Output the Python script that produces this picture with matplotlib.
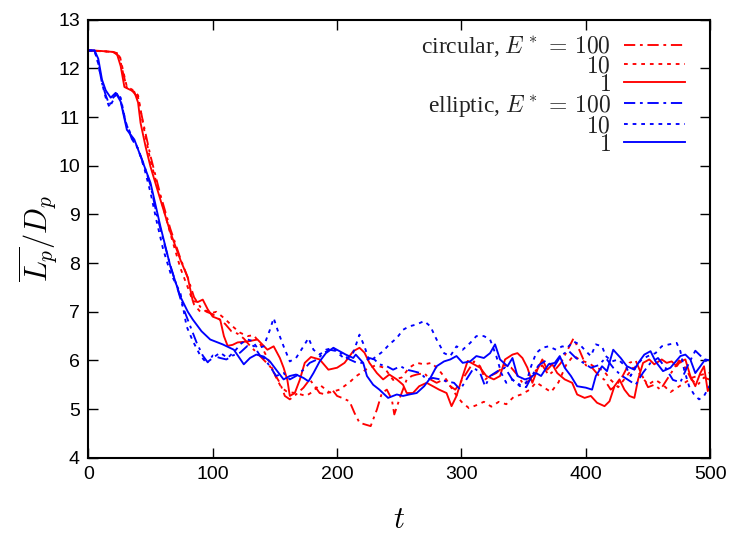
"""Mean particle length L_p/D_p versus time for circular and elliptic particles."""

import matplotlib
matplotlib.use("Agg")
import matplotlib.pyplot as plt
import numpy as np

# circular, E* = 100 (red dash-dot)
T_CIRC100 = [0, 10, 20, 25, 28, 31, 35, 40, 44, 50, 58, 66, 74, 80, 85, 90, 95, 100, 105, 110,
             115, 120, 125, 130, 138, 146, 154, 158, 162, 167, 173, 178, 182, 186, 191, 196, 200,
             204, 210, 214, 218, 223, 227, 232, 236, 240, 244, 246, 251, 256, 260, 264, 270, 275,
             280, 286, 291, 295, 299, 304, 310, 315, 319, 323, 328, 335, 340, 345, 350, 355, 360,
             365, 370, 375, 380, 385, 390, 395, 400, 405, 410, 415, 420, 425, 430, 435, 440, 445,
             450, 455, 460, 465, 470, 475, 480, 485, 490, 495, 500]
L_CIRC100 = [12.37, 12.36, 12.34, 12.25, 11.9, 11.6, 11.55, 11.4, 10.9, 10.2, 9.4, 8.7, 8.1, 7.7,
             7.3, 7.1, 7.0, 6.95, 6.85, 6.75, 6.6, 6.55, 6.45, 6.3, 6.09, 5.88, 5.54, 5.27, 5.2, 5.3,
             5.44, 5.61, 5.47, 5.33, 5.3, 5.4, 5.27, 5.23, 5.16, 4.92, 4.72, 4.68, 4.65, 4.99, 5.33,
             5.4, 5.2, 4.89, 5.27, 5.61, 5.68, 5.71, 5.74, 5.61, 5.54, 5.61, 5.47, 5.4, 5.54, 5.74,
             5.98, 5.88, 5.61, 5.68, 5.74, 5.9, 5.85, 5.7, 5.5, 5.6, 5.8, 5.9, 5.7, 5.8, 5.95, 6.2,
             6.45, 6.2, 5.9, 5.85, 5.7, 5.6, 5.4, 5.5, 5.7, 5.95, 6.0, 5.7, 5.45, 5.5, 5.4, 5.6, 5.8,
             6.0, 5.85, 5.6, 5.5, 5.65, 5.6]

# circular, E* = 10 (red dotted)
T_CIRC10 = [0, 20, 25, 28, 31, 35, 40, 44, 50, 58, 66, 74, 80, 85, 90, 95, 100, 103, 110, 116, 122,
            128, 133, 138, 145, 150, 155, 160, 167, 175, 180, 186, 194, 202, 210, 215, 223, 231,
            238, 245, 252, 258, 264, 270, 276, 282, 288, 294, 300, 306, 312, 318, 324, 330, 336,
            342, 348, 355, 360, 366, 372, 378, 384, 390, 396, 402, 408, 414, 420, 426, 432, 438,
            444, 450, 456, 462, 468, 474, 480, 486, 492, 500]
L_CIRC10 = [12.37, 12.34, 12.3, 11.95, 11.62, 11.57, 11.45, 10.85, 10.1, 9.35, 8.6, 7.9, 7.5, 7.15,
            7.0, 7.02, 6.98, 7.0, 6.85, 6.7, 6.57, 6.5, 6.52, 6.35, 6.0, 5.7, 5.45, 5.35, 5.33, 5.27,
            5.35, 5.5, 5.34, 5.4, 5.55, 5.67, 5.81, 5.9, 5.85, 5.6, 5.65, 5.85, 5.95, 5.92, 5.95,
            5.8, 5.6, 5.35, 5.15, 5.02, 5.08, 5.15, 5.05, 5.15, 5.1, 5.25, 5.3, 5.4, 5.55, 5.45,
            5.35, 5.55, 5.9, 6.1, 6.0, 5.95, 5.85, 5.8, 5.6, 5.45, 5.65, 5.85, 5.7, 5.5, 5.6, 5.5,
            5.35, 5.45, 5.55, 5.65, 5.7, 5.75]

# circular, E* = 1 (red solid)
T_CIRC1 = [0, 10, 20, 23, 26, 29, 33, 37, 40, 42, 46, 50, 58, 66, 74, 80, 84, 88, 92, 96, 100, 106,
           109, 112, 116, 120, 128, 136, 144, 149, 154, 157, 160, 162, 166, 170, 174, 179, 186, 193,
           200, 206, 213, 218, 222, 226, 232, 237, 242, 248, 253, 256, 261, 266, 272, 277, 282, 288,
           292, 296, 301, 305, 310, 315, 320, 326, 331, 335, 341, 345, 349, 353, 357, 361, 365, 369,
           373, 377, 383, 389, 393, 399, 404, 409, 415, 419, 423, 427, 431, 435, 439, 442, 446, 451,
           455, 461, 465, 469, 473, 476, 480, 484, 488, 492, 495, 498, 500]
L_CIRC1 = [12.37, 12.36, 12.34, 12.3, 12.05, 11.62, 11.57, 11.52, 11.3, 10.88, 10.4, 9.98, 9.3, 8.63,
           8.07, 7.7, 7.22, 7.2, 7.25, 7.05, 6.9, 6.84, 6.5, 6.3, 6.32, 6.37, 6.39, 6.43, 6.22, 6.29,
           6.05, 5.85, 5.6, 5.27, 5.33, 5.6, 5.95, 6.07, 6.02, 5.81, 5.85, 5.95, 6.19, 6.26, 6.16,
           5.95, 5.74, 5.61, 5.71, 5.61, 5.5, 5.33, 5.33, 5.47, 5.54, 5.47, 5.4, 5.33, 5.06, 5.27,
           5.68, 5.99, 5.92, 5.85, 5.68, 5.61, 5.68, 6.02, 6.12, 6.15, 6.05, 5.85, 5.54, 5.81, 6.02,
           5.81, 5.92, 5.74, 5.61, 5.54, 5.3, 5.23, 5.27, 5.13, 5.06, 5.16, 5.47, 5.61, 5.4, 5.27,
           5.23, 5.61, 5.95, 6.02, 5.92, 6.02, 5.95, 5.98, 5.88, 5.98, 6.02, 5.68, 5.47, 5.74, 5.88,
           5.37, 5.5]

# elliptic, E* = 100 (blue dash-dot)
T_ELL100 = [0, 5, 8, 11, 14, 17, 20, 23, 26, 30, 35, 40, 45, 50, 55, 60, 66, 72, 76, 82, 87, 92, 96,
            100, 106, 111, 116, 122, 128, 133, 138, 141, 146, 151, 157, 162, 167, 173, 178, 184,
            189, 194, 200, 205, 210, 216, 221, 226, 230, 234, 240, 245, 251, 256, 261, 267, 272,
            277, 283, 288, 294, 299, 304, 310, 315, 319, 323, 329, 335, 341, 347, 352, 357, 362,
            368, 374, 380, 386, 392, 398, 404, 410, 416, 422, 428, 434, 440, 446, 452, 458, 464,
            470, 476, 482, 488, 494, 500]
L_ELL100 = [12.37, 12.37, 12.1, 11.7, 11.45, 11.25, 11.4, 11.48, 11.35, 10.9, 10.55, 10.35, 10.0,
            9.6, 9.0, 8.5, 7.95, 7.45, 7.1, 6.7, 6.37, 6.1, 5.96, 6.1, 6.05, 6.02, 6.1, 6.16, 6.3,
            6.3, 6.1, 6.05, 5.88, 5.68, 5.74, 5.61, 5.68, 5.81, 5.95, 6.02, 6.15, 6.22, 6.19, 6.12,
            6.02, 5.95, 5.95, 6.05, 6.02, 5.92, 5.88, 5.81, 5.88, 5.81, 5.78, 5.74, 5.61, 5.64,
            5.61, 5.57, 5.54, 5.4, 5.61, 5.85, 5.74, 5.47, 5.68, 5.78, 5.85, 5.6, 5.5, 5.45, 5.7,
            5.9, 6.0, 5.85, 6.1, 6.2, 6.05, 5.95, 5.85, 5.9, 6.05, 5.85, 5.7, 5.6, 5.5, 5.75, 5.95,
            6.05, 5.85, 5.6, 5.55, 5.9, 6.2, 6.05, 5.9]

# elliptic, E* = 10 (blue dotted)
T_ELL10 = [0, 5, 8, 11, 14, 17, 20, 23, 26, 30, 35, 40, 45, 50, 55, 60, 66, 74, 79, 84, 90, 95, 100,
           106, 112, 118, 123, 128, 132, 136, 141, 146, 149, 153, 157, 162, 167, 173, 177, 181, 186,
           191, 197, 202, 207, 213, 218, 222, 226, 232, 237, 242, 248, 253, 258, 264, 270, 275, 280,
           286, 291, 296, 301, 307, 312, 318, 323, 328, 332, 336, 341, 347, 352, 356, 360, 365, 370,
           376, 381, 385, 390, 395, 400, 404, 408, 413, 416, 421, 426, 432, 436, 440, 445, 450, 456,
           461, 467, 473, 476, 479, 483, 487, 491, 495, 500]
L_ELL10 = [12.37, 12.37, 12.1, 11.7, 11.4, 11.2, 11.35, 11.5, 11.4, 10.9, 10.6, 10.35, 9.95, 9.45,
           8.85, 8.3, 7.8, 7.39, 6.7, 6.4, 6.1, 5.95, 6.05, 6.16, 6.05, 6.2, 6.35, 6.43, 6.4, 6.25,
           6.29, 6.63, 6.87, 6.56, 6.29, 5.98, 6.05, 6.29, 6.46, 6.22, 6.12, 6.22, 6.26, 6.12, 6.02,
           6.16, 6.53, 6.29, 5.98, 6.09, 6.19, 6.33, 6.46, 6.63, 6.7, 6.74, 6.81, 6.7, 6.43, 6.15,
           6.09, 6.29, 6.22, 6.36, 6.5, 6.5, 6.43, 6.09, 5.74, 5.54, 5.61, 5.47, 5.54, 5.88, 6.15,
           6.26, 6.29, 6.22, 6.29, 6.26, 6.39, 6.33, 6.19, 6.09, 6.33, 6.29, 6.09, 5.98, 6.02, 5.88,
           5.68, 5.88, 6.02, 6.09, 6.15, 6.29, 6.33, 6.36, 6.19, 5.81, 5.47, 5.3, 5.2, 5.27, 5.5]

# elliptic, E* = 1 (blue solid)
T_ELL1 = [0, 5, 8, 11, 14, 18, 22, 26, 31, 37, 43, 50, 58, 66, 74, 80, 84, 91, 98, 108, 117, 125,
          130, 135, 141, 146, 151, 157, 162, 167, 173, 177, 181, 186, 191, 197, 202, 207, 213, 215,
          221, 224, 229, 234, 241, 248, 253, 258, 264, 270, 275, 280, 286, 291, 296, 301, 307, 312,
          318, 323, 327, 331, 337, 341, 345, 351, 355, 360, 364, 370, 375, 379, 383, 388, 393, 400,
          405, 408, 413, 417, 422, 428, 433, 439, 443, 447, 452, 456, 462, 468, 476, 480, 484, 488,
          492, 496, 500]
L_ELL1 = [12.37, 12.37, 12.2, 11.77, 11.55, 11.4, 11.5, 11.32, 10.74, 10.54, 10.13, 9.65, 8.75, 7.93,
          7.31, 7.0, 6.84, 6.6, 6.43, 6.33, 6.22, 5.92, 6.05, 6.12, 6.08, 5.98, 5.81, 5.61, 5.68,
          5.71, 5.64, 5.57, 5.74, 5.98, 6.15, 6.26, 6.19, 6.12, 6.05, 6.12, 5.95, 5.68, 5.5, 5.4,
          5.23, 5.3, 5.27, 5.3, 5.33, 5.47, 5.64, 5.88, 5.98, 6.02, 6.09, 5.95, 5.98, 6.09, 6.05,
          6.15, 6.33, 6.02, 5.88, 6.05, 5.68, 5.61, 5.64, 5.74, 5.68, 5.92, 5.95, 6.09, 5.85, 5.68,
          5.47, 5.44, 5.4, 5.68, 5.88, 5.78, 6.22, 6.05, 5.88, 5.81, 5.98, 6.12, 6.19, 5.98, 5.78,
          5.85, 6.09, 6.12, 6.02, 5.74, 5.88, 6.02, 6.0]

SERIES = [
    (T_CIRC100, L_CIRC100, "red", "dashdot", r"circular, $E^*\,=\,100$"),
    (T_CIRC10, L_CIRC10, "red", "dotted", r"$10$"),
    (T_CIRC1, L_CIRC1, "red", "solid", r"$1$"),
    (T_ELL100, L_ELL100, "blue", "dashdot", r"elliptic, $E^*\,=\,100$"),
    (T_ELL10, L_ELL10, "blue", "dotted", r"$10$"),
    (T_ELL1, L_ELL1, "blue", "solid", r"$1$"),
]

DASHES = {
    "dashdot": (0, (6, 2.5, 1.5, 2.5)),
    "dotted": (0, (2, 2.6)),
    "solid": "-",
}
COLORS = {"red": "#ff0000", "blue": "#0000ff"}


def main() -> None:
    plt.rcParams["mathtext.fontset"] = "cm"
    plt.rcParams["font.family"] = ["Liberation Sans", "DejaVu Sans"]

    fig = plt.figure(figsize=(7.36, 5.36), dpi=100)
    ax = fig.add_axes([0.12, 0.146, 0.845, 0.817])

    for t, length, color, style, label in SERIES:
        ax.plot(t, length, color=COLORS[color], linestyle=DASHES[style], linewidth=1.35, label=label)

    ax.set_xlim(0, 500)
    ax.set_ylim(4, 13)
    ax.set_xticks(np.arange(0, 501, 100))
    ax.set_yticks(np.arange(4, 14, 1))
    ax.tick_params(direction="in", length=7, width=1, top=True, right=True, labelsize=14, pad=6)
    for spine in ax.spines.values():
        spine.set_linewidth(1.5)

    ax.set_xlabel(r"$t$", fontsize=22, labelpad=16)
    ax.set_ylabel(r"$\overline{L_p}/D_p$", fontsize=22, labelpad=-1)

    leg = ax.legend(
        loc="upper right",
        bbox_to_anchor=(0.992, 1.014),
        markerfirst=False,
        frameon=False,
        labelspacing=-0.13,
        handlelength=2.6,
        handletextpad=0.55,
        borderaxespad=0.65,
        borderpad=0.2,
        prop={"family": "Liberation Serif", "size": 17},
    )
    for text in leg.get_texts():
        text.set_color("#222222")

    fig.savefig("out.png", dpi=100)
    plt.close(fig)


if __name__ == "__main__":
    main()
